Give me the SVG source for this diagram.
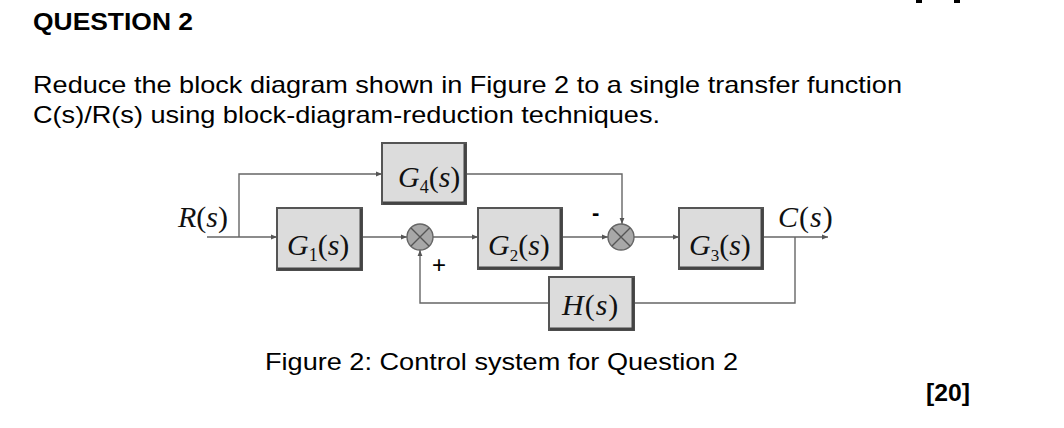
<svg xmlns="http://www.w3.org/2000/svg" width="1064" height="428" viewBox="0 0 1064 428">
<style>
.hdr{font-family:"Liberation Sans",Arial,sans-serif;fill:#000}
.blk{fill:#dcdcdc;stroke:#555;stroke-width:2}
.sh{fill:none;stroke:#444;stroke-width:3}
.math{font-family:"Liberation Serif","Times New Roman",serif;fill:#111;font-size:30px}
.it{font-style:italic}
.wire{fill:none;stroke:#666;stroke-width:1.4}
.sum{fill:#a8a8a8;stroke:#666;stroke-width:1.4}
.x{stroke:#555;stroke-width:1.4}
</style>
<defs>
<marker id="ar" viewBox="0 0 10 10" refX="10" refY="5" markerWidth="6" markerHeight="6" orient="auto" markerUnits="userSpaceOnUse">
<path d="M0,1 L10,5 L0,9 z" fill="#555"/>
</marker>
</defs>
<rect width="1064" height="428" fill="#fff"/>
<rect x="916" y="0" width="6" height="3" fill="#000"/>
<rect x="954" y="0" width="6" height="3" fill="#000"/>
<text class="hdr" x="33" y="30" font-size="24" font-weight="bold" textLength="160" lengthAdjust="spacingAndGlyphs">QUESTION 2</text>
<text class="hdr" x="33" y="93" font-size="24" textLength="869" lengthAdjust="spacingAndGlyphs">Reduce the block diagram shown in Figure 2 to a single transfer function</text>
<text class="hdr" x="33" y="123" font-size="24" textLength="627" lengthAdjust="spacingAndGlyphs">C(s)/R(s) using block-diagram-reduction techniques.</text>

<g id="connectors">
<path class="wire" d="M207,237 H277" marker-end="url(#ar)"/>
<path class="wire" d="M239,237 V174 H382" marker-end="url(#ar)"/>
<path class="wire" d="M362,237 H407" marker-end="url(#ar)"/>
<path class="wire" d="M433,237 H478" marker-end="url(#ar)"/>
<path class="wire" d="M562,237 H608" marker-end="url(#ar)"/>
<path class="wire" d="M466,174 H622 V224" marker-end="url(#ar)"/>
<path class="wire" d="M634,237 H679" marker-end="url(#ar)"/>
<path class="wire" d="M763,237 H828" marker-end="url(#ar)"/>
<path class="wire" d="M795,237 V303 H634"/>
<path class="wire" d="M549,303 H420 V250" marker-end="url(#ar)"/>
</g>

<g id="R">
<text class="math" x="178" y="227" font-size="28"><tspan class="it">R</tspan>(<tspan class="it">s</tspan>)</text>
</g>
<g id="C">
<text class="math" x="778" y="227" font-size="28" letter-spacing="1"><tspan class="it">C</tspan>(<tspan class="it">s</tspan>)</text>
</g>

<g id="G4">
<rect class="blk" x="382" y="143" width="84" height="61"/>
<path class="sh" d="M383,203 H465 V144"/>
<text class="math" x="398" y="187"><tspan class="it">G</tspan><tspan font-size="18" dy="6">4</tspan><tspan dy="-6">(</tspan><tspan class="it">s</tspan>)</text>
</g>
<g id="G1">
<rect class="blk" x="277" y="208" width="85" height="62"/>
<path class="sh" d="M278,269 H361 V209"/>
<text class="math" x="287" y="255"><tspan class="it">G</tspan><tspan font-size="18" dy="6">1</tspan><tspan dy="-6">(</tspan><tspan class="it">s</tspan>)</text>
</g>
<g id="G2">
<rect class="blk" x="478" y="208" width="84" height="61"/>
<path class="sh" d="M479,268 H561 V209"/>
<text class="math" x="488" y="255" font-size="28"><tspan class="it">G</tspan><tspan font-size="17" dy="6">2</tspan><tspan dy="-6">(</tspan><tspan class="it">s</tspan>)</text>
</g>
<g id="G3">
<rect class="blk" x="679" y="208" width="84" height="61"/>
<path class="sh" d="M680,268 H762 V209"/>
<text class="math" x="689" y="255" font-size="28"><tspan class="it">G</tspan><tspan font-size="17" dy="6">3</tspan><tspan dy="-6">(</tspan><tspan class="it">s</tspan>)</text>
</g>
<g id="H">
<rect class="blk" x="549" y="277" width="85" height="53"/>
<path class="sh" d="M550,329 H633 V278"/>
<text class="math" x="562" y="315" font-size="28" letter-spacing="1"><tspan class="it">H</tspan>(<tspan class="it">s</tspan>)</text>
</g>

<g id="sum1">
<circle class="sum" cx="420" cy="237" r="13"/>
<path class="x" d="M411,228 L429,246 M429,228 L411,246"/>
<text class="hdr" x="432" y="273" font-size="24">+</text>
</g>
<g id="sum2">
<circle class="sum" cx="621" cy="237" r="13"/>
<path class="x" d="M612,228 L630,246 M630,228 L612,246"/>
<text class="hdr" x="592" y="220" font-size="22" font-weight="bold">-</text>
</g>

<text class="hdr" x="265" y="370" font-size="24" textLength="473" lengthAdjust="spacingAndGlyphs">Figure 2: Control system for Question 2</text>
<text class="hdr" x="926" y="401" font-size="24" font-weight="bold" textLength="44" lengthAdjust="spacingAndGlyphs">[20]</text>
</svg>
